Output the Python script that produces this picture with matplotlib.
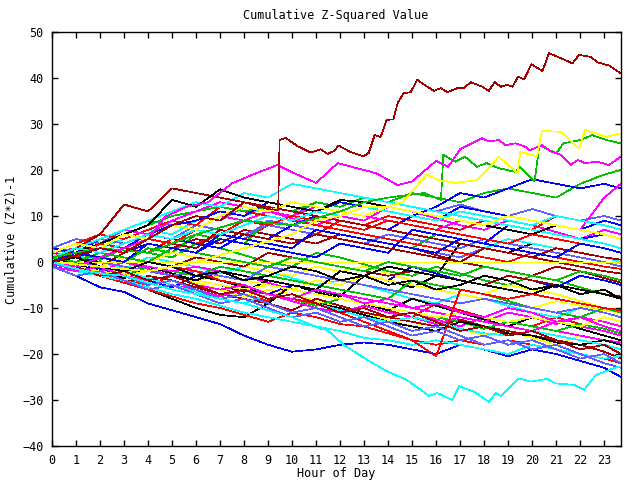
import matplotlib
matplotlib.use("Agg")
import matplotlib.pyplot as plt

plt.rcParams['font.family'] = ['DejaVu Sans Mono']

# gnuplot style line colours
colors = ['#ff0000', '#00c000', '#0000ff', '#ff00ff', '#00ffff',
          '#a00000', '#ffff00', '#000000', '#6060ff']

# hourly samples shared by the bulk series
hours = [0, 1, 2, 3, 4, 5, 6, 7, 8, 9, 10, 11, 12, 13, 14, 15, 16, 17, 18, 19, 20, 21, 22, 23, 23.7]

bulk = [
    [0, -1, -2.5, -4, -5, -3, -4.5, -6, -7, -8.5, -5, -6.5, -8, -9, -10.5, -12, -9, -10.5, -12, -13, -14, -12, -13.5, -14.5, -15.5],
    [1, 2, 0.5, 3, 2, 1, 4, 3, 1.5, 0, -1, 2, 1, -0.5, -2, -3, -1, -2.5, -4, -5, -3, -4, -5.5, -7, -8],
    [-1, -3, -5.5, -6.5, -9, -10.5, -12, -13.5, -16, -18, -19.5, -19, -18, -17.5, -18, -19, -20, -18, -19, -20.5, -19, -20, -21.5, -23, -25],
    [2, 3, 5, 4, 6, 8, 7, 10, 9, 11, 9.5, 8, 10, 9, 12, 11, 9.5, 8, 7, 9, 8, 6.5, 5, 7, 6],
    [0, 1.5, 0, -1.5, 1, 0, -1, -2.5, -1, -2, -3.5, -5, -4, -5, -6.5, -8, -9, -7, -8, -9.5, -11, -12, -10, -11, -12],
    [1, 0, -1, 2, 4, 3, 5, 4, 7, 6, 5, 4, 6, 5, 4, 3, 1.5, 0, -1, -2, -3, -1, -2, -3.5, -4.5],
    [0, -1.5, -1, -2.5, -4, -3, -4.5, -6, -7.5, -6, -7, -8.5, -10, -11, -12.5, -14, -13, -14.5, -16, -15, -16.5, -18, -16, -17, -18],
    [0, -1.5, -3, -4.5, -6, -8, -10, -11.5, -12, -9, -5, -6, -7.5, -3, -4, -5.5, -3, 4, 3, 2, 4, 3, 2, 1, 0],
    [3, 5, 4, 7, 9, 8, 10, 9, 12, 11, 10, 13, 12, 14, 13, 12, 11, 12.5, 11, 10, 11.5, 10, 9, 10, 9],
    [1, 2, 1, 3, 2, 5, 4, 6, 5, 8, 7, 6, 9, 8, 10, 9, 8, 7, 9, 8, 7, 10, 9, 8, 7],
    [0, -1, 1, 0, 3, 2, 6, 5, 4, 9, 8, 7, 6, 5, 4, 3, 6, 5, 4, 3, 2, 1, 0, -1, -1.5],
    [-1, 0, -1.5, -3, -4, -5.5, -3, -4, -5.5, -7, -5, -6, -2, -3, -4, -1, -2.5, -4, -5, -3, -4, -5.5, -3, -4, -5],
    [0, -1, -2, 0, -1.5, -3, -4, -2, -3, -4.5, -6, -7, -8, -9, -10, -11, -12.5, -14, -12, -13, -14, -15, -16, -17, -17.5],
    [2, 4, 3, 5, 7, 6, 9, 11, 10, 12, 11, 10, 9, 8, 7, 6, 5, 4, 3, 5, 4, 3, 2, 1, 0],
    [-1, -2, -3, -4.5, -3, -4, -5.5, -7, -8, -9, -10.5, -8, -9.5, -11, -12, -13, -14, -12.5, -14, -15, -16, -17, -18, -19.5, -21],
    [1, 0, -1, 1, 0, 2, 1, 0, -1, -2, -3, -1, -2, -1, -2.5, -4, -5, -6, -7, -5, -6, -7, -8.5, -10, -11],
    [1, -0.5, -2, -3.5, -1, -2.5, -4, -5, -6.5, -4, -5, -6.5, -8, -9, -10.5, -8, -9.5, -11, -12.5, -14, -12, -13, -14.5, -16, -17],
    [0, 2, 5, 4, 6, 5, 8, 7, 6, 8, 7, 6, 5, 4, 6, 5, 4, 3, 5, 4, 3, 2, 1, 0, -1],
    [0, -1.5, -3, -4.5, -6, -7.5, -9, -10, -11.5, -13, -11, -12, -13.5, -14, -15.5, -17, -18, -17, -18, -17, -18, -19, -20, -21, -22],
    [1, 0, -1, -2, -1, -2, -3, -4, -5.5, -7, -8, -9.5, -8, -9, -10, -11, -12, -13, -14.5, -13, -14, -15, -13.5, -14.5, -15.5],
    [2, 1, 3, 2, 4, 3, 2, 5, 4, 3, 2, 1, 4, 3, 2, 7, 6, 5, 4, 8, 7, 6, 5, 6, 5],
    [-0.5, -1.5, -3, -2, -3.5, -5, -6, -7.5, -6, -7, -8.5, -10, -11, -9.5, -11, -12, -13.5, -12, -13, -11, -12, -13.5, -12, -13, -14],
    [0, -1.5, -3, -4, -5.5, -7, -8, -9.5, -11, -12, -13, -14, -15, -16.5, -17, -18, -17, -18, -19, -20, -18, -19, -20, -21, -20.5],
    [2, 1, 0, -1, -2, -1, 1, 0, -1, 2, 1, 0, -1, -2, -3, -2, -3, -4, -5, -3, -4, -5, -6, -7, -7.5],
    [0, 1, 0, -1, -2, -3, -4, -3, -4, -5, -6, -4, -5, -3, -4, -5, -6, -7, -8, -9, -10, -8.5, -9.5, -10.5, -11],
    [0, -1, 1, 0, -1, -2, -3, -4, -5.5, -7, -8, -9, -10, -11.5, -13, -14, -15, -13, -14, -15.5, -16, -17.5, -18, -17, -18],
    [1, 3, 2, 4, 6, 5, 7, 6, 5, 9, 8, 7, 6, 5, 4, 3, 2, 1, 3, 2, 1, 0, -1, -2, -2.5],
    [2, 4, 6, 5, 7, 9, 8, 12, 11, 10, 9, 8, 7, 6, 5, 4, 3, 2, 1, 0, 2, 1, 0, -1, -1.5],
    [0, -1, -2, -3, -1, -2, -3, -1, -2, -3, -4, -5, -6, -7, -8, -4, -5, -6, -7, -8.5, -10, -11, -12, -10, -11],
    [3, 2, 5, 7, 6, 5, 4, 3, 6, 5, 8, 10, 9, 8, 7, 10, 9, 12, 11, 10, 9, 8, 7, 9, 8],
    [1, 2, 1, 0, -1, -2, -1, -2, -3, -4, -5, -6, -7, -8, -9, -10, -11, -12, -13, -14, -15, -13, -14, -15, -16],
    [-1, -2, -3, -2, -3.5, -5, -6.5, -8, -9, -7, -8, -9, -10.5, -12, -13, -12, -13, -14.5, -15.5, -16, -15, -16, -17, -18, -19],
    [0, 2, 1, 3, 2, 4, 3, 7, 6, 5, 4, 6, 5, 4, 3, 2, 1, 0, 3, 2, 1, 3, 2, 1, 0.5],
    [0, -1, -2, -3, -2, -3, -4, -5, -6, -5, -6, -7, -8, -9, -10, -11, -12, -11, -12, -13, -12, -13, -14, -12, -13],
    [0, 1, 0, -1, -2, -3, -4, -2, -3, -4, -5, -6, -2, -3, -1, -2, -3, -4, -5, -6, -7, -5, -6, -7, -8],
    [0, -1, 0, -1, -2, -3, -2, -3, -4, -1, -2, -3, -4, -5, -6, -7, -8, -9, -8, -9, -10, -11, -10, -11, -12],
    [1, 0, 2, 1, 0, -1, -2, -4, -5, -7, -8, -9, -11, -13, -15, -17, -20.5, -6, -7, -8, -7, -8, -9, -10, -10.5],
    [2, 4, 3, 6, 8, 10, 11, 12, 11, 12, 11, 13, 12, 14, 13, 15, 14, 13, 15, 16, 15, 14, 17, 19, 20],
    [0, 2, 4, 3, 6, 8, 9, 11, 10, 13, 12, 11, 13, 12, 11, 10, 12, 15, 14, 16, 18, 17, 16, 17, 16],
    [1, 3, 5, 7, 6, 9, 11, 13, 12, 11, 10, 12, 11, 10, 9, 8, 7, 9, 8, 10, 9, 8, 7, 14, 17],
    [1, 3, 5, 7, 9, 11, 13, 12, 15, 14, 17, 16, 15, 14, 13, 12, 11, 10, 9, 8, 7, 6, 5, 4, 3],
    [0, 3, 6, 12.5, 11, 16, 15, 14, 13, 12, 11, 10, 9, 8, 7, 6, 5, 4, 3, 2, 1, 0, -1, -2, -2.5],
    [0, 0, 0, 0, 0, 0, 0, 0, 0, 0, 0, 0, 0, 0, 0, 0, 0, 0, 0, 0, 0, 0, 0, 0, 0],
    [1, 2, 4, 6, 8, 13.5, 12, 15.8, 14, 13, 12, 11, 13.5, 13, 12, 11, 10, 9, 8, 7, 6, 8, 7, 6, 5],
    [0, -2, -1, -3, -5, -4, -6, -8, -7, -9, -11, -10, -12, -14, -13, -15, -14, -16, -18, -17, -19, -18, -20, -22, -23],
    [2, 1, 4, 3, 5, 4, 7, 6, 9, 8, 10, 9, 8, 7, 9, 8, 7, 6, 5, 4, 6, 5, 4, 3, 2],
    [1, 0, 2, 1, 0, 3, 2, 1, 0, -1, 1, 0, -1, -2, 0, -1, -2, -3, -1, -2, -3, -4, -2, -3, -4],
    [0, 2, 1, 0, 4, 3, 2, 6, 5, 4, 3, 7, 6, 5, 4, 3, 2, 5, 4, 3, 2, 1, 4, 3, 2],
    [-1, -2, -1, -3, -4, -3, -5, -6, -5, -7, -8, -6, -7, -9, -8, -10, -9, -11, -12, -10, -11, -13, -12, -14, -15],
    [1, 3, 2, 4, 6, 5, 7, 6, 8, 10, 9, 11, 10, 12, 11, 10, 9, 11, 10, 9, 8, 10, 9, 8, 7],
    [0, -1, -3, -2, -4, -3, -5, -7, -6, -8, -7, -9, -11, -10, -12, -11, -13, -15, -14, -16, -15, -17, -19, -18, -20],
    [2, 4, 3, 6, 5, 8, 7, 10, 12, 11, 13, 12, 11, 10, 12, 11, 10, 9, 8, 10, 9, 8, 7, 6, 5],
    [0, 1, -1, -2, 0, -1, -3, -2, -4, -3, -1, -2, -4, -3, -5, -4, -6, -5, -3, -4, -6, -5, -7, -6, -8],
    [-1, -3, -2, -4, -6, -5, -7, -9, -8, -10, -12, -11, -13, -12, -14, -16, -15, -17, -16, -18, -17, -19, -21, -20, -22],
]

# detailed series
top_t = [0, 1, 2, 3, 4, 5, 6, 7, 8, 9, 9.42, 9.48, 9.73, 10.22, 10.77, 11.19, 11.48, 11.73, 11.94, 12.44,
         12.97, 13.19, 13.44, 13.69, 13.94, 14.22, 14.4, 14.65, 14.94, 15.22, 15.35, 15.9, 16.19, 16.47,
         16.88, 17.15, 17.44, 17.93, 18.19, 18.44, 18.69, 18.94, 19.18, 19.41, 19.66, 19.97, 20.43, 20.7,
         21.19, 21.68, 21.95, 22.44, 22.72, 23.2, 23.7]
top_v = [0, 1.5, 3, 2, 5, 8, 10, 9, 13, 11.5, 11.3, 26.5, 27, 25.2, 23.8, 24.5, 23.5, 24.1, 25.3, 23.9,
         23, 23.7, 27.6, 27.2, 30.9, 31, 34.6, 36.7, 36.9, 39.7, 39.1, 37.2, 37.8, 36.9,
         37.8, 37.8, 39.1, 38.1, 37.2, 39.1, 38.1, 38.5, 38.1, 40.3, 39.7, 43, 41.5, 45.4,
         44.3, 43.2, 45, 44.6, 43.4, 42.7, 41]

low_t = [0, 1, 2, 3, 4, 5, 6, 7, 8, 9, 10, 11.2, 11.47, 12.15, 13.13, 13.97, 14.8, 15.7, 16.05, 16.68,
         16.95, 17.58, 18.2, 18.48, 18.69, 19.45, 19.94, 20.63, 20.98, 21.74, 22.16, 22.65, 23.55, 23.7]
low_v = [0, -1.5, -2.5, -3, -4.5, -6, -7, -8, -9, -10.5, -12, -14.5, -14.8, -18, -21.3, -23.8, -25.7, -29.1, -28.5, -30,
         -27, -28.2, -30.4, -28.5, -29.1, -25.3, -26, -25.4, -26.4, -26.7, -27.8, -24.6, -22.8, -23]

yel_t = [0, 2, 4, 6, 8, 10, 11, 12, 13, 14, 14.6, 15.6, 16.1, 16.8, 17.7, 18.2, 18.6, 19.4, 19.5, 20.2,
         20.4, 21.2, 21.95, 22.2, 22.65, 23.1, 23.7]
yel_v = [0, -1, -2, 0, 3, 6, 9, 10, 12, 12, 13, 19, 17.8, 17.2, 17.8, 20.4, 22.9, 19.3, 24, 22.9,
         28.5, 28.3, 24.7, 28.7, 28, 27.2, 28]

mag_t = [0, 1, 2, 3, 4, 4.7, 5.6, 6.5, 7.5, 8.5, 9.4, 10, 11, 11.9, 13.5, 14.4, 15, 16, 16.5, 17,
         17.9, 18.2, 18.6, 18.9, 19.3, 19.7, 19.9, 20.4, 20.8, 21.2, 21.6, 21.9, 22.2, 22.7, 23.2, 23.7]
mag_v = [0, -1, 1, 3, 5, 9.8, 12, 13, 17.1, 19.3, 21.1, 19.5, 17.2, 21.5, 19.3, 16.7, 17.5, 22, 20.7, 24.5,
         26.9, 26.2, 26.5, 25.4, 25.8, 25.1, 24.3, 25.4, 24, 23.3, 21.1, 22.2, 21.5, 21.8, 21.1, 22.9]

grn_t = [0, 2, 4, 6, 8, 10, 12, 13, 14, 15.5, 16.2, 16.3, 16.8, 17.2, 17.7, 18.1, 18.6, 19.3, 19.5, 20.1,
         20.3, 21.0, 21.3, 22.0, 22.5, 23.1, 23.7]
grn_v = [1, 3, 2, 6, 9, 8, 11, 13, 14, 15, 13.5, 23.3, 21.8, 22.9, 20.7, 21.5, 20.4, 19.6, 20.7, 17.5,
         25.4, 23.6, 25.8, 26.5, 27.6, 26.5, 25.8]

fig = plt.figure(figsize=(6.4, 4.8), dpi=100)
ax = fig.add_axes([52 / 640, 34 / 480, 569 / 640, 414 / 480])

lw = 0.5  # thin aliased lines, one pixel wide
for i, vals in enumerate(bulk):
    ax.plot(hours, vals, color=colors[i % len(colors)], lw=lw, antialiased=False)

ax.plot(grn_t, grn_v, color='#00c000', lw=lw, antialiased=False)
ax.plot(mag_t, mag_v, color='#ff00ff', lw=lw, antialiased=False)
ax.plot(yel_t, yel_v, color='#ffff00', lw=lw, antialiased=False)
ax.plot(low_t, low_v, color='#00ffff', lw=lw, antialiased=False)
ax.plot(top_t, top_v, color='#a00000', lw=lw, antialiased=False)

ax.set_xlim(0, 23.7)
ax.set_ylim(-40, 50)
ax.set_xticks(range(0, 24))
ax.set_yticks(range(-40, 51, 10))
ax.tick_params(direction='in', length=4, width=1, top=True, right=True,
               labelsize=8.5, pad=6)
for sp in ax.spines.values():
    sp.set_linewidth(1.0)

fig.text(336 / 640, 1 - 15 / 480, "Cumulative Z-Squared Value", ha='center', va='center', fontsize=8.5)
fig.text(336 / 640, 1 - 473 / 480, "Hour of Day", ha='center', va='center', fontsize=8.5)
fig.text(12 / 640, 1 - 240 / 480, "Cumulative (Z*Z)-1", ha='center', va='center', rotation=90, fontsize=8.5)

fig.savefig("out.png", dpi=100)
